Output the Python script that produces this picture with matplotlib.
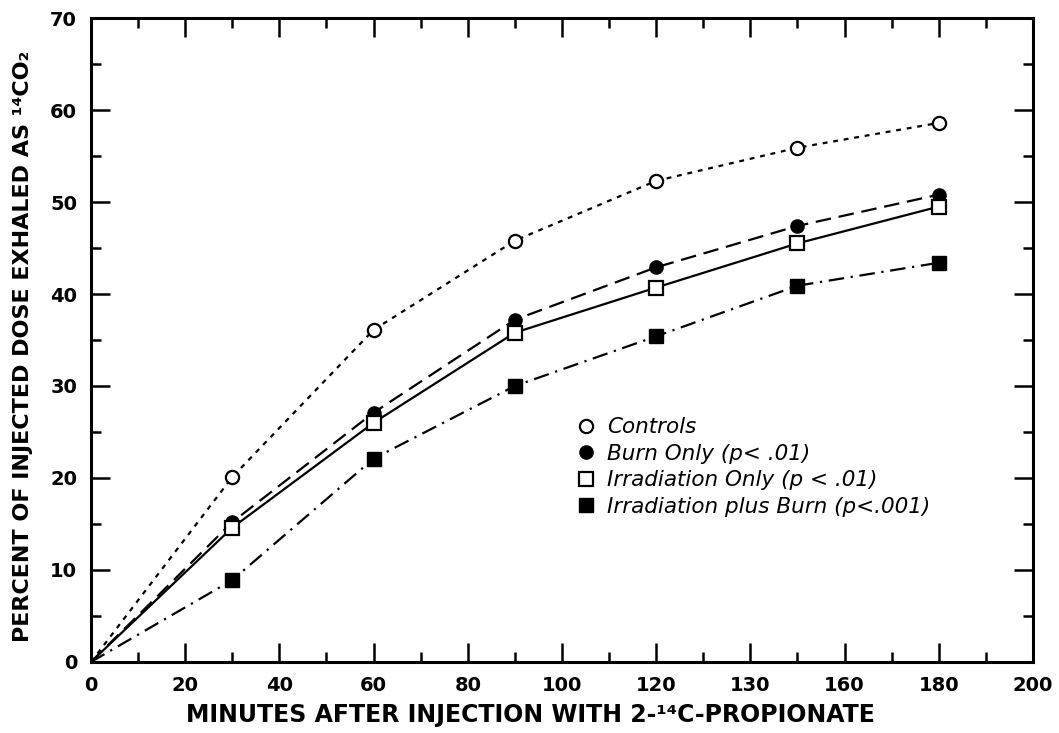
import matplotlib
matplotlib.use("Agg")
import matplotlib.pyplot as plt
from matplotlib.lines import Line2D
from matplotlib.ticker import MultipleLocator, FixedLocator

# minutes after injection
minutes = [0, 30, 60, 90, 120, 150, 180]

controls = [0, 20.1, 36.1, 45.8, 52.3, 55.9, 58.6]
burn_only = [0, 15.2, 27.1, 37.2, 42.9, 47.4, 50.8]
irr_only = [0, 14.6, 26.0, 35.8, 40.7, 45.5, 49.5]
irr_burn = [0, 8.9, 22.1, 30.0, 35.4, 40.9, 43.4]

x_ticks = [0, 20, 40, 60, 80, 100, 120, 140, 160, 180, 200]
x_tick_labels = ["0", "20", "40", "60", "80", "100", "120", "130", "160", "180", "200"]
y_ticks = [0, 10, 20, 30, 40, 50, 60, 70]

labels = ["Controls", "Burn Only (p< .01)", "Irradiation Only (p < .01)",
          "Irradiation plus Burn (p<.001)"]

fig = plt.figure(figsize=(10.59, 7.33), dpi=100)
ax = fig.add_axes([0.0859, 0.0969, 0.8895, 0.8785])

lw = 1.6
ms = 9.5
ax.plot(minutes, controls, color="black", lw=lw, dashes=(2.2, 2.6),
        marker="o", ms=ms, mfc="white", mec="black", mew=1.6, markevery=range(1, 7))
ax.plot(minutes, burn_only, color="black", lw=lw, dashes=(7, 3.5),
        marker="o", ms=ms, mfc="black", mec="black", markevery=range(1, 7))
ax.plot(minutes, irr_only, color="black", lw=lw, linestyle="-",
        marker="s", ms=ms, mfc="white", mec="black", mew=1.6, markevery=range(1, 7))
ax.plot(minutes, irr_burn, color="black", lw=lw, dashes=(7, 3, 1, 3),
        marker="s", ms=ms, mfc="black", mec="black", markevery=range(1, 7))

ax.set_xlim(0, 200)
ax.set_ylim(0, 70)
ax.xaxis.set_major_locator(FixedLocator(x_ticks))
ax.set_xticklabels(x_tick_labels)
ax.xaxis.set_minor_locator(MultipleLocator(10))
ax.yaxis.set_major_locator(FixedLocator(y_ticks))
ax.yaxis.set_minor_locator(MultipleLocator(5))

for s in ax.spines.values():
    s.set_linewidth(2.2)
ax.tick_params(which="both", direction="in", top=True, right=True, width=1.8)
ax.tick_params(which="major", length=14, labelsize=14, pad=10)
ax.tick_params(which="minor", length=7)
for t in ax.get_xticklabels() + ax.get_yticklabels():
    t.set_fontweight("bold")

ax.set_xlabel("MINUTES AFTER INJECTION WITH 2-\u00b9\u2074C-PROPIONATE",
              fontweight="bold", fontsize=17)
ax.xaxis.set_label_coords(0.467, -0.064)
ax.set_ylabel("PERCENT OF INJECTED DOSE EXHALED AS \u00b9\u2074CO\u2082",
              fontweight="bold", fontsize=16)
ax.yaxis.set_label_coords(-0.062, 0.49)

handles = [
    Line2D([], [], ls="none", marker="o", ms=ms, mfc="white", mec="black", mew=1.6),
    Line2D([], [], ls="none", marker="o", ms=ms, mfc="black", mec="black"),
    Line2D([], [], ls="none", marker="s", ms=ms, mfc="white", mec="black", mew=1.6),
    Line2D([], [], ls="none", marker="s", ms=ms, mfc="black", mec="black"),
]
ax.legend(handles, labels, loc="upper left", bbox_to_anchor=(0.493, 0.41),
          frameon=False, handlelength=1.0, handletextpad=0.5, labelspacing=0.3,
          prop=dict(style="italic", size=15.5))

fig.savefig("out.png", dpi=100)
